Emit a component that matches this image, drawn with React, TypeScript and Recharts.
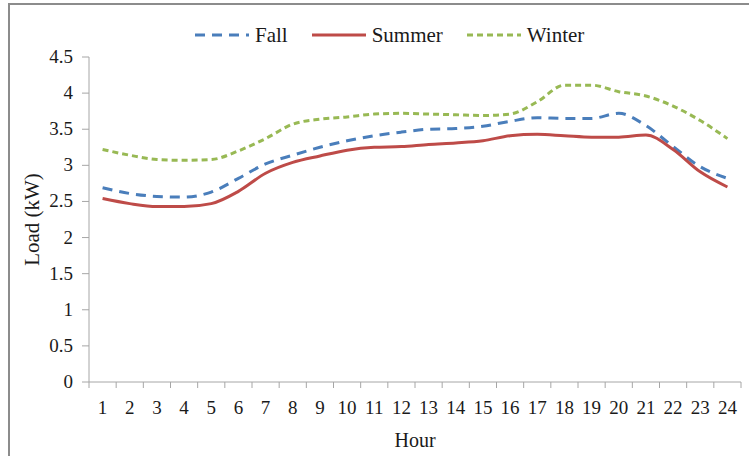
import React from "react"
import {
    LineChart,
    Line,
    XAxis,
    YAxis,
} from "recharts"

const hours = [1, 2, 3, 4, 5, 6, 7, 8, 9, 10, 11, 12, 13, 14, 15, 16, 17, 18, 19, 20, 21, 22, 23, 24]
const fall = [2.69, 2.61, 2.57, 2.56, 2.63, 2.82, 3.02, 3.14, 3.25, 3.34, 3.41, 3.46, 3.5, 3.51, 3.54, 3.61, 3.66, 3.65, 3.65, 3.72, 3.55, 3.26, 2.98, 2.82]
const summer = [2.54, 2.47, 2.43, 2.43, 2.47, 2.64, 2.89, 3.04, 3.13, 3.21, 3.25, 3.26, 3.29, 3.31, 3.34, 3.41, 3.43, 3.41, 3.39, 3.39, 3.42, 3.22, 2.91, 2.7]
const winter = [3.22, 3.14, 3.08, 3.07, 3.08, 3.2, 3.37, 3.57, 3.64, 3.67, 3.71, 3.72, 3.71, 3.7, 3.69, 3.71, 3.88, 4.11, 4.11, 4.02, 3.96, 3.82, 3.62, 3.37]
const yTicks = [0, 0.5, 1, 1.5, 2, 2.5, 3, 3.5, 4, 4.5]

const data = hours.map((h, i) => ({
    hour: h,
    Fall: fall[i],
    Summer: summer[i],
    Winter: winter[i],
}))

const series = [
    { key: "Fall", color: "#4a7ebb", dash: "10 7" },
    { key: "Summer", color: "#be4b48", dash: undefined },
    { key: "Winter", color: "#98b954", dash: "6 4" },
]

const WIDTH = 749
const HEIGHT = 456
const PLOT_LEFT = 89
const PLOT_RIGHT = 741
const PLOT_TOP = 57
const PLOT_BOTTOM = 382
const BAND = (PLOT_RIGHT - PLOT_LEFT) / hours.length
const FONT = "'Liberation Serif', 'Times New Roman', serif"
const AXIS = "#a6a6a6"
const TEXT = "#1a1a1a"

function HourTick(props: any) {
    const { x, y, payload, index } = props
    const last = index === hours.length - 1
    return (
        <g>
            <line x1={x - BAND / 2} y1={y} x2={x - BAND / 2} y2={y + 6} stroke={AXIS} />
            {last && <line x1={x + BAND / 2} y1={y} x2={x + BAND / 2} y2={y + 6} stroke={AXIS} />}
            <text x={x} y={y + 32} textAnchor="middle" fontSize={19} fill={TEXT} fontFamily={FONT}>
                {payload.value}
            </text>
        </g>
    )
}

function LoadTick(props: any) {
    const { x, y, payload } = props
    return (
        <text x={x} y={y + 6} textAnchor="end" fontSize={19} fill={TEXT} fontFamily={FONT}>
            {payload.value}
        </text>
    )
}

function ChartLegend() {
    return (
        <div
            style={{
                position: "absolute",
                left: 195,
                top: 23,
                display: "flex",
                alignItems: "center",
                fontFamily: FONT,
                fontSize: 21,
                lineHeight: "24px",
                color: TEXT,
            }}
        >
            {series.map((s) => (
                <div key={s.key} style={{ display: "flex", alignItems: "center", marginRight: 24 }}>
                    <svg width={54} height={10} style={{ marginRight: 6 }}>
                        <line x1={0} y1={5} x2={54} y2={5} stroke={s.color} strokeWidth={3} strokeDasharray={s.dash} />
                    </svg>
                    <span>{s.key}</span>
                </div>
            ))}
        </div>
    )
}

export default function App() {
    return (
        <div style={{ position: "absolute", left: 0, top: 0, width: WIDTH, height: HEIGHT, background: "#fff", overflow: "hidden" }}>
            <div
                style={{
                    position: "absolute",
                    left: 8,
                    top: 3,
                    width: 800,
                    height: 500,
                    borderLeft: "2px solid #8c8c8c",
                    borderTop: "2px solid #8c8c8c",
                }}
            />
            <ChartLegend />
            <div style={{ position: "absolute", left: 0, top: 0 }}>
                <LineChart
                    width={WIDTH}
                    height={HEIGHT}
                    data={data}
                    style={{ fontFamily: FONT }}
                    margin={{ top: PLOT_TOP, right: WIDTH - PLOT_RIGHT, left: 20, bottom: 0 }}
                >
                    <XAxis
                        dataKey="hour"
                        tick={<HourTick />}
                        tickLine={false}
                        tickSize={0}
                        tickMargin={0}
                        interval={0}
                        padding={{ left: BAND / 2, right: BAND / 2 }}
                        axisLine={{ stroke: AXIS }}
                        height={HEIGHT - PLOT_BOTTOM}
                        label={{ value: "Hour", position: "insideBottom", offset: 9, fontSize: 20, fill: TEXT, fontFamily: FONT }}
                    />
                    <YAxis
                        width={PLOT_LEFT - 20}
                        domain={[0, 4.5]}
                        ticks={yTicks}
                        interval={0}
                        tickSize={7}
                        tickMargin={9}
                        tickLine={{ stroke: AXIS }}
                        axisLine={{ stroke: AXIS }}
                        tick={<LoadTick />}
                        label={{
                            value: "Load (kW)",
                            angle: -90,
                            position: "insideLeft",
                            offset: 12,
                            fontSize: 21,
                            fill: TEXT,
                            fontFamily: FONT,
                            style: { textAnchor: "middle" },
                        }}
                    />
                    {series.map((s) => (
                        <Line
                            key={s.key}
                            type="monotone"
                            dataKey={s.key}
                            stroke={s.color}
                            strokeWidth={3}
                            strokeDasharray={s.dash}
                            dot={false}
                            isAnimationActive={false}
                        />
                    ))}
                </LineChart>
            </div>
        </div>
    )
}
